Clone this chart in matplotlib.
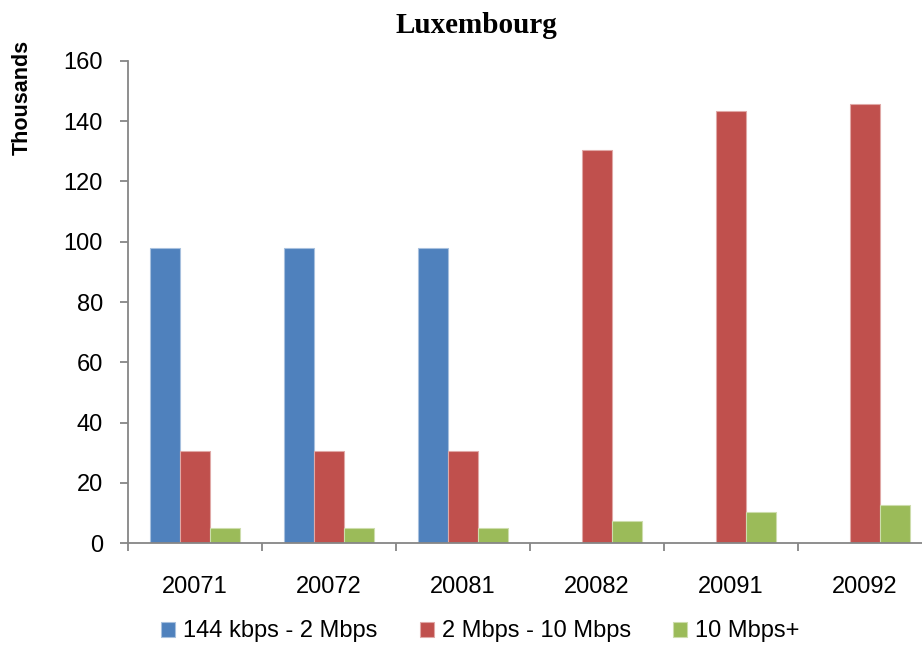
import numpy as np
import matplotlib
matplotlib.use("Agg")
import matplotlib.pyplot as plt

# values (thousands)
periods = ['20071', '20072', '20081', '20082', '20091', '20092']
low_speed = [98, 98, 98, 0, 0, 0]
mid_speed = [30.6, 30.6, 30.6, 130.5, 143.4, 145.8]
high_speed = [5.1, 5.1, 5.1, 7.3, 10.2, 12.5]
series_names = ['144 kbps - 2 Mbps', '2 Mbps - 10 Mbps', '10 Mbps+']

colors = ['#4F81BD', '#C0504D', '#9BBB59']
edges = ['#A7C0DE', '#E0A8A6', '#CDDDAC']

plt.rcParams['font.family'] = ['Liberation Sans', 'DejaVu Sans']

fig = plt.figure(figsize=(9.22, 6.47), dpi=100)
ax = fig.add_axes([0.13883, 0.16074, 0.87202, 0.74498])

x = np.arange(len(periods)) + 0.5
w = 0.224
handles = []
for i, vals in enumerate([low_speed, mid_speed, high_speed]):
    b = ax.bar(x + (i - 1) * w, vals, width=w, color=colors[i],
               edgecolor=edges[i], linewidth=0.8, label=series_names[i])
    handles.append(b)

ax.set_xlim(0, len(periods))
ax.set_ylim(0, 160)
ax.set_yticks(range(0, 161, 20))
# category borders as ticks, labels in the middle
ax.set_xticks(np.arange(len(periods) + 1))
ax.set_xticklabels([])
ax.set_xticks(x, minor=True)
ax.set_xticklabels(periods, minor=True)

for s in ['top', 'right']:
    ax.spines[s].set_visible(False)
for s in ['left', 'bottom']:
    ax.spines[s].set_color('#868686')
    ax.spines[s].set_linewidth(1.3)

ax.tick_params(axis='y', which='major', length=6, width=1.3, color='#868686',
               labelsize=17, pad=12)
ax.tick_params(axis='x', which='major', length=6, width=1.3, color='#868686')
ax.tick_params(axis='x', which='minor', length=0, labelsize=17, pad=24)

fig.text(0.517, 0.96, 'Luxembourg', ha='center', va='center',
         fontsize=21, fontweight='bold', family='Liberation Serif')
fig.text(0.024, 0.85, 'Thousands', ha='center', va='center', rotation=90,
         fontsize=15.5, fontweight='bold')

fig.legend(handles=handles, loc='center', bbox_to_anchor=(0.521, 0.024),
           ncol=3, frameon=False, fontsize=17, handlelength=0.6,
           handleheight=0.6, handletextpad=0.34, columnspacing=1.78,
           borderaxespad=0, borderpad=0)

fig.savefig('out.png', dpi=100)
